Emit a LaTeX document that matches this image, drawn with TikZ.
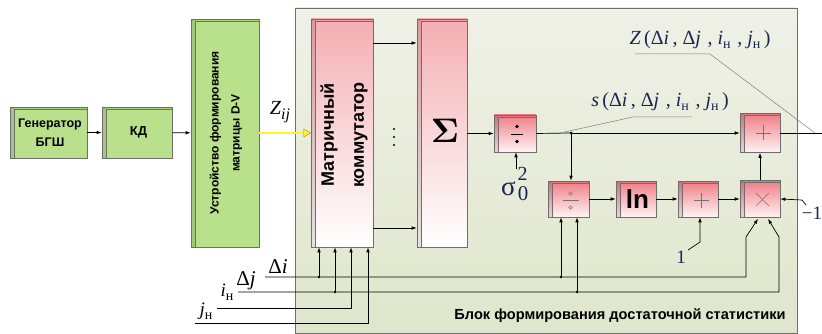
\documentclass[tikz,border=0pt]{standalone}
\usepackage[no-math]{fontspec}
\setmainfont{Liberation Serif}
\newfontfamily\lsans{Liberation Sans}
\usetikzlibrary{arrows.meta,calc}
\definecolor{gfill}{HTML}{B9E08B}
\definecolor{ptop}{HTML}{EF7D85}
\definecolor{pbot}{HTML}{FFF4F4}
\definecolor{ltop}{HTML}{F4AEB2}
\definecolor{bgtop}{HTML}{EFF1E7}
\definecolor{bgbot}{HTML}{E0E6CC}
\definecolor{navy}{HTML}{1C2452}
\definecolor{edgec}{HTML}{6E6E6E}
\begin{document}
\begin{tikzpicture}[x=1pt,y=-1pt,
  >={Latex[length=5pt,width=3.6pt]},
  box3d/.style={draw=edgec, line width=0.6pt, inner sep=0pt,
    path picture={
      \fill[black,opacity=0.11] (path picture bounding box.north west) rectangle ([xshift=4pt]path picture bounding box.south west);
      \fill[black,opacity=0.06] (path picture bounding box.north west) rectangle ([yshift=-2pt]path picture bounding box.north east);
      \draw[edgec,line width=0.4pt] ([xshift=4pt,yshift=-2pt]path picture bounding box.north west) -- ([xshift=4pt]path picture bounding box.south west);
      \draw[edgec,line width=0.4pt] ([xshift=4pt,yshift=-2pt]path picture bounding box.north west) -- ([yshift=-2pt]path picture bounding box.north east);
    }},
  green/.style={box3d, fill=gfill},
  pink/.style={box3d, top color=ptop, bottom color=pbot, minimum width=41pt, minimum height=37pt},
  lpink/.style={box3d, top color=ltop, bottom color=white},
  conn/.style={line width=0.7pt},
  lead/.style={gray, line width=0.5pt},
  sym/.style={gray!90!black, line width=0.6pt},
  dot/.style={fill, circle, inner sep=0pt, minimum size=3pt},
  ml/.style={text=navy, inner sep=0pt}
]
\useasboundingbox (0,0) rectangle (822,334);
% background block
\path[draw=edgec, line width=0.6pt, top color=bgtop, bottom color=bgbot] (295,8) rectangle (797,333);

% left green boxes
\node[green, minimum width=77pt, minimum height=51pt, font=\lsans\bfseries\fontsize{12.5}{19}\selectfont, align=center] (gen) at (48.5,132.5) {\hspace{3pt}Генератор\\\hspace{3pt}БГШ};
\node[green, minimum width=70pt, minimum height=51pt, font=\lsans\bfseries\fontsize{13}{20}\selectfont] (kd) at (137,132.5) {\hspace{3pt}КД};
\node[green, minimum width=68pt, minimum height=228pt] (ustr) at (225,133) {};
\node[rotate=90, font=\lsans\bfseries\fontsize{12}{21}\selectfont, align=center] (ustrt) at (226,133) {Устройство формирования\\матрицы D-V};

% commutator and sum
\node[lpink, minimum width=62pt, minimum height=228pt] (comm) at (342,133) {};
\node[rotate=90, font=\lsans\bfseries\fontsize{18}{30}\selectfont, align=center] (commt) at (344,135) {Матричный\\коммутатор};
\node[lpink, minimum width=50pt, minimum height=228pt] (sum) at (442,133) {};
\node[inner sep=0pt, scale=3.4] (sumt) at (445,131) {$\mathbf{\Sigma}$};

% small boxes
\node[pink, minimum width=42pt] (div1) at (515,133.5) {};
\node[pink, minimum height=36pt] (div2) at (568.5,199) {};
\node[pink, minimum width=40pt, minimum height=36pt, font=\lsans\bfseries\fontsize{26}{26}\selectfont] (ln) at (636,199) {\hspace{3pt}ln};
\node[pink, minimum width=40pt, minimum height=36pt] (plus2) at (698,199) {};
\node[pink, minimum width=40pt, minimum height=37pt] (mul) at (760,199) {};
\node[pink, minimum width=40pt, minimum height=39pt] (plus1) at (760,133) {};

% symbols
\fill ($(div1.center)+(2,-7)$) circle (1.8pt);
\fill ($(div1.center)+(2,8)$) circle (1.8pt);
\draw[line width=0.8pt] ($(div1.center)+(-4,0.5)$) -- ($(div1.center)+(8,0.5)$);
\draw[sym] ($(div2.center)+(2,-5.5)$) circle (1.8pt);
\draw[sym] ($(div2.center)+(2,8.5)$) circle (1.8pt);
\draw[sym] ($(div2.center)+(-6,1.5)$) -- ($(div2.center)+(10,1.5)$);
\draw[sym] ($(plus2.center)+(-4.5,1)$) -- ($(plus2.center)+(10.5,1)$);
\draw[sym] ($(plus2.center)+(3,-6.5)$) -- ($(plus2.center)+(3,8.5)$);
\draw[sym] ($(plus1.center)+(-4.5,0)$) -- ($(plus1.center)+(10.5,0)$);
\draw[sym] ($(plus1.center)+(3,-7.5)$) -- ($(plus1.center)+(3,7.5)$);
\draw[sym] ($(mul.center)+(-4,-6)$) -- ($(mul.center)+(9,7)$);
\draw[sym] ($(mul.center)+(-4,7)$) -- ($(mul.center)+(9,-6)$);

% dots between comm and sum
\fill (394,129) circle (1.2pt);
\fill (394,137) circle (1.2pt);
\fill (394,145) circle (1.2pt);

% coordinates
\coordinate (r1) at (0,43);
\coordinate (r2) at (0,228);
\coordinate (j1) at (571,133);
\coordinate (sl0) at (560,133);
\coordinate (out) at (822,133);

% main connectors
\draw[conn,->] (gen) -- (kd);
\draw[conn,->] (kd) -- (ustr);
\draw[draw=olive!55!gray, double=yellow!85!white, double distance=1.6pt, line width=0.5pt] (ustr.east) -- ($(comm.west)+(-6,0)$);
\filldraw[fill=yellow!85!white, draw=olive!55!gray, line width=0.4pt] ($(comm.west)+(-7,-4)$) -- (comm.west) -- ($(comm.west)+(-7,4)$) -- cycle;
\draw[conn,->] (comm.east |- r1) -- (sum.west |- r1);
\draw[conn,->] (comm.east |- r2) -- (sum.west |- r2);
\draw[conn,->] (sum.east |- div1) -- (div1.west);
\draw[conn] (div1.east) -- (j1);
\draw[conn,->] (j1) -- (plus1.west);
\node[dot] (j1d) at (j1) {};
\draw[conn,->] (j1) -- (j1 |- div2.north);
\draw[conn,->] (div2) -- (ln);
\draw[conn,->] (ln) -- (plus2);
\draw[conn,->] (plus2) -- (mul);
\draw[conn,->] (mul) -- (plus1);
\draw[conn] (plus1.east) -- (out);

% sigma
\node[ml, font=\fontsize{27}{27}\selectfont] (sig) at (508.5,189) {σ};
\node[ml, font=\fontsize{20}{20}\selectfont] (sig2) at (522.5,174) {2};
\node[ml, font=\fontsize{21}{21}\selectfont] (sig0) at (523,194) {0};
\coordinate (sa) at (516,169);
\draw[conn,->] (sa) -- (sa |- div1.south);

% one and minus one
\node[ml, font=\fontsize{19}{19}\selectfont] (one) at (681,257) {1};
\coordinate (onec) at (700,242);
\coordinate (onel) at (688,250);
\draw[conn,->] (onel) -- (onec) -- (onec |- plus2.south);
\node[ml, font=\fontsize{19}{19}\selectfont] (mone) at (812,213) {−1};
\coordinate (monec) at (802,200);
\coordinate (monel) at (806,205);
\draw[conn,->] (monel) -- (monec) -- (mul.east);

% bottom parameter lines
\coordinate (s1) at (265,277);
\coordinate (s2) at (238,292);
\coordinate (s3) at (217,308);
\coordinate (s4) at (195,323);
\coordinate (c1) at (746,277);
\coordinate (c1u) at (746,237);
\coordinate (c2) at (779,292);
\coordinate (c2u) at (779,237);
\coordinate (c3) at (351,308);
\coordinate (c4) at (368,323);
\draw[conn,->] (s1) -- (c1) -- (c1u) -- ($(mul.south)+(-2,1)$);
\draw[conn,->] (s2) -- (c2) -- (c2u) -- ($(mul.south)+(8,1)$);
\draw[conn,->] (s3) -- (c3) -- (c3 |- comm.south);
\draw[conn,->] (s4) -- (c4) -- (c4 |- comm.south);
\coordinate (b1) at (319,277);
\coordinate (b2) at (335,292);
\coordinate (b3) at (561,277);
\coordinate (b4) at (577,292);
\draw[conn,->] (b1) -- (b1 |- comm.south);
\draw[conn,->] (b2) -- (b2 |- comm.south);
\draw[conn,->] (b3) -- (b3 |- div2.south);
\draw[conn,->] (b4) -- (b4 |- div2.south);
\node[dot, minimum size=2.6pt] at (b1) {};
\node[dot, minimum size=2.6pt] at (b2) {};
\node[dot, minimum size=2.6pt] at (b3) {};
\node[dot, minimum size=2.6pt] at (b4) {};

% parameter labels
\node[ml, text=black, font=\fontsize{21}{21}\selectfont] (ldi) at (278,267) {Δ\textit{i}};
\node[ml, text=black, font=\fontsize{21}{21}\selectfont] (ldj) at (246,281) {Δ\textit{j}};
\node[ml, text=black, font=\fontsize{19}{19}\selectfont] (lin) at (227,292) {\textit{i}\raisebox{-4pt}{\fontsize{14}{14}\selectfont н}};
\node[ml, text=black, font=\fontsize{19}{19}\selectfont] (ljn) at (206,311) {\textit{j}\raisebox{-4pt}{\fontsize{14}{14}\selectfont н}};
\node[ml, text=black, font=\fontsize{20}{20}\selectfont] (zij) at (280,112) {\textit{Z}\raisebox{-5pt}{\fontsize{16}{16}\selectfont\textit{ij}}};

% s and Z labels
\node[ml, font=\fontsize{20}{20}\selectfont] (slab) at (660,102) {\textit{s}\,(Δ\textit{i}\,, Δ\textit{j}\,\,, \textit{i}\raisebox{-4pt}{\fontsize{14}{14}\selectfont н}\,\,, \textit{j}\raisebox{-4pt}{\fontsize{14}{14}\selectfont н}\,)};
\draw[lead] (sl0) -- (633,117) -- (692,117);
\node[ml, font=\fontsize{20}{20}\selectfont] (zlab) at (700,40) {\textit{Z}\,(Δ\textit{i}\,, Δ\textit{j}\,\,, \textit{i}\raisebox{-4pt}{\fontsize{14}{14}\selectfont н}\,\,, \textit{j}\raisebox{-4pt}{\fontsize{14}{14}\selectfont н}\,)};
\draw[lead] (635,54) -- (710,54) -- (815,133);

% block title
\node[font=\lsans\bfseries\fontsize{14.6}{14.6}\selectfont] (btitle) at (620,316) {Блок формирования достаточной статистики};
\end{tikzpicture}
\end{document}
